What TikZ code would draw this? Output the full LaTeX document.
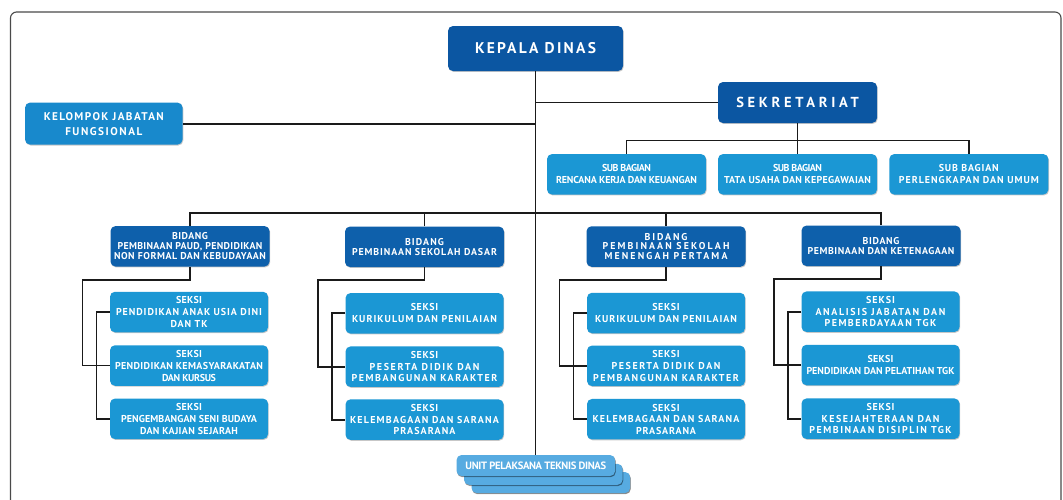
\documentclass[tikz,border=0pt]{standalone}
\usepackage{fontspec}
\setmainfont{PT Sans}[BoldFont={PT Sans Bold}]
\usetikzlibrary{calc,shadows}
\definecolor{dkblue}{HTML}{0B56A2}
\definecolor{bdblue}{HTML}{0E60AB}
\definecolor{ltblue}{HTML}{1B97D4}
\definecolor{kjblue}{HTML}{1889CC}
\definecolor{uptblue}{HTML}{57ABE1}
\definecolor{framec}{HTML}{4A4A4A}
\definecolor{connc}{HTML}{1A1A1A}
\ExplSyntaxOn
\box_new:N \l__fl_box
\dim_new:N \l__fl_nat_dim
\dim_new:N \l__fl_one_dim
\fp_new:N \l__fl_ls_fp
\NewDocumentCommand \fl { m m }
  {
    \hbox_set:Nn \l__fl_box {#2}
    \dim_set:Nn \l__fl_nat_dim { \box_wd:N \l__fl_box }
    \hbox_set:Nn \l__fl_box { \addfontfeature{LetterSpace=10} #2 }
    \dim_set:Nn \l__fl_one_dim { \box_wd:N \l__fl_box }
    \fp_set:Nn \l__fl_ls_fp
      { 10 * ( #1 - \dim_to_fp:n { \l__fl_nat_dim } ) / ( \dim_to_fp:n { \l__fl_one_dim - \l__fl_nat_dim } ) }
    \hbox:n { \exp_args:Nx \addfontfeature { LetterSpace = \fp_eval:n { round(\l__fl_ls_fp, 3) } } #2 }
  }
\ExplSyntaxOff
\tikzset{
  box/.style={rounded corners=5pt, text=white, align=center, inner sep=0pt,
    minimum width=159pt, minimum height=40.5pt,
    drop shadow={shadow xshift=0.7pt, shadow yshift=-0.9pt, opacity=0.22, fill=black},
    font=\bfseries\fontsize{10}{11.7}\selectfont},
  topbox/.style={box, fill=dkblue},
  bidbox/.style={box, fill=bdblue, font=\bfseries\fontsize{9.9}{9.9}\selectfont},
  seksibox/.style={box, fill=ltblue, minimum width=158pt},
  uptbox/.style={box, fill=uptblue, minimum width=158.5pt, minimum height=21pt,
    drop shadow={shadow xshift=0.6pt, shadow yshift=-1.2pt, opacity=0.3, fill=black},
    font=\bfseries\fontsize{10.6}{11}\selectfont},
  conn/.style={draw=connc, line width=1.8pt}
}
\begin{document}
\begin{tikzpicture}[x=1pt,y=-1pt]
\useasboundingbox (0,0) rectangle (1063,499);
\clip (0,0) rectangle (1063,499);
\fill[white] (0,0) rectangle (1063,499);
\draw[framec, line width=1.1pt, rounded corners=6pt] (10.5,530) -- (10.5,12) -- (1061,12) -- (1061,530);

% top level
\node[topbox, minimum width=175pt, minimum height=45pt, font=\bfseries\fontsize{15.5}{17}\selectfont] (kd) at (535.5,48.5) {\fl{121}{KEPALA DINAS}};
\node[box, fill=kjblue, minimum width=157.5pt, minimum height=42pt, font=\bfseries\fontsize{11.2}{15}\selectfont] (kjf) at (103.8,123.6) {\fl{120}{KELOMPOK JABATAN}\\\fl{77}{FUNGSIONAL}};
\node[topbox, minimum height=41pt, font=\bfseries\fontsize{14.5}{16}\selectfont] (sek) at (797.5,102.5) {\fl{122.5}{SEKRETARIAT}};

% sub bagian
\node[seksibox, minimum width=159pt] (sb1) at (626.5,174.3) {\fl{49}{SUB BAGIAN}\\\fl{141}{RENCANA KERJA DAN KEUANGAN}};
\node[seksibox, minimum width=159pt] (sb2) at (797.5,174.3) {\fl{49}{SUB BAGIAN}\\\fl{147}{TATA USAHA DAN KEPEGAWAIAN}};
\node[seksibox, minimum width=159pt] (sb3) at (968.8,174.3) {\fl{60}{SUB BAGIAN}\\\fl{140}{PERLENGKAPAN DAN UMUM}};

% bidang
\node[bidbox] (b1) at (190,246.3) {\fl{36}{BIDANG}\\\fl{145}{PEMBINAAN PAUD, PENDIDIKAN}\\\fl{152}{NON FORMAL DAN KEBUDAYAAN}};
\node[bidbox] (b2) at (424.5,246.8) {\fl{39}{BIDANG}\\\fl{145}{PEMBINAAN SEKOLAH DASAR}};
\node[bidbox] (b3) at (666,246.5) {\fl{43}{BIDANG}\\\fl{127}{PEMBINAAN SEKOLAH}\\\fl{123}{MENENGAH PERTAMA}};
\node[bidbox] (b4) at (881,245.8) {\fl{37}{BIDANG}\\\fl{147}{PEMBINAAN DAN KETENAGAAN}};

% seksi column 1
\node[seksibox, font=\bfseries\fontsize{10}{12.2}\selectfont] (s1a) at (189,312) {\fl{26}{SEKSI}\\\fl{146}{PENDIDIKAN ANAK USIA DINI}\\\fl{37}{DAN TK}};
\node[seksibox, font=\bfseries\fontsize{10}{12}\selectfont] (s1b) at (189,365.5) {\fl{26}{SEKSI}\\\fl{148}{PENDIDIKAN KEMASYARAKATAN}\\\fl{54}{DAN KURSUS}};
\node[seksibox] (s1c) at (189,418.8) {\fl{26}{SEKSI}\\\fl{136}{PENGEMBANGAN SENI BUDAYA}\\\fl{98}{DAN KAJIAN SEJARAH}};
% seksi column 2
\node[seksibox] (s2a) at (424.5,313.3) {\fl{27.5}{SEKSI}\\\fl{145}{KURIKULUM DAN PENILAIAN}};
\node[seksibox] (s2b) at (424.5,366.7) {\fl{27.5}{SEKSI}\\\fl{110}{PESERTA DIDIK DAN}\\\fl{146}{PEMBANGUNAN KARAKTER}};
\node[seksibox] (s2c) at (424.5,419.6) {\fl{27.5}{SEKSI}\\\fl{149}{KELEMBAGAAN DAN SARANA}\\\fl{62}{PRASARANA}};
% seksi column 3
\node[seksibox] (s3a) at (666,313) {\fl{27.5}{SEKSI}\\\fl{141.7}{KURIKULUM DAN PENILAIAN}};
\node[seksibox] (s3b) at (666,365.8) {\fl{27.5}{SEKSI}\\\fl{109}{PESERTA DIDIK DAN}\\\fl{146}{PEMBANGUNAN KARAKTER}};
\node[seksibox] (s3c) at (666,419.2) {\fl{27.5}{SEKSI}\\\fl{146.7}{KELEMBAGAAN  DAN SARANA}\\\fl{60}{PRASARANA}};
% seksi column 4
\node[seksibox] (s4a) at (880.5,311.7) {\fl{29}{SEKSI}\\\fl{130}{ANALISIS JABATAN DAN}\\\fl{111.7}{PEMBERDAYAAN TGK}};
\node[seksibox, font=\bfseries\fontsize{10}{12}\selectfont] (s4b) at (880.5,365) {\fl{26}{SEKSI}\\\fl{148}{PENDIDIKAN DAN PELATIHAN TGK}};
\node[seksibox] (s4c) at (880.5,418.7) {\fl{28}{SEKSI}\\\fl{118}{KESEJAHTERAAN DAN}\\\fl{142.4}{PEMBINAAN DISIPLIN TGK}};

% UPT stack
\node[uptbox] (upt3) at (550.8,482.5) {};
\node[uptbox] (upt2) at (543.3,474.3) {};
\node[uptbox] (upt1) at (535.8,465.5) {\fl{140.7}{UNIT PELAKSANA TEKNIS DINAS}};

% connectors
\draw[conn] (kd.south) -- (kd.south |- upt1.north);
\draw[conn] (kjf.east) -- (kjf.east -| kd.south);
\draw[conn] (sek.west) -- (sek.west -| kd.south);
\coordinate (sy) at (797.5,140.5);
\draw[conn] (sek.south) -- (sy);
\draw[conn] (sb1.north) |- (sy) -| (sb3.north);
\draw[conn] (sb2.north) -- (sb2.north |- sy);
\coordinate (by) at (535.5,213);
\draw[conn] (b1.north) |- (by) -| (b4.north);
\draw[conn] (b2.north) -- (b2.north |- by);
\draw[conn] (b3.north) -- (b3.north |- by);
\foreach \c in {1,2,3,4}{
  \draw[conn] (b\c.south) -- ++(0,13) -| ([xshift=-27.3pt]s\c b.west) -- (s\c b.west);
  \draw[conn] (s\c a.west) -- ++(-13.3,0) |- (s\c c.west);
}
\end{tikzpicture}
\end{document}
